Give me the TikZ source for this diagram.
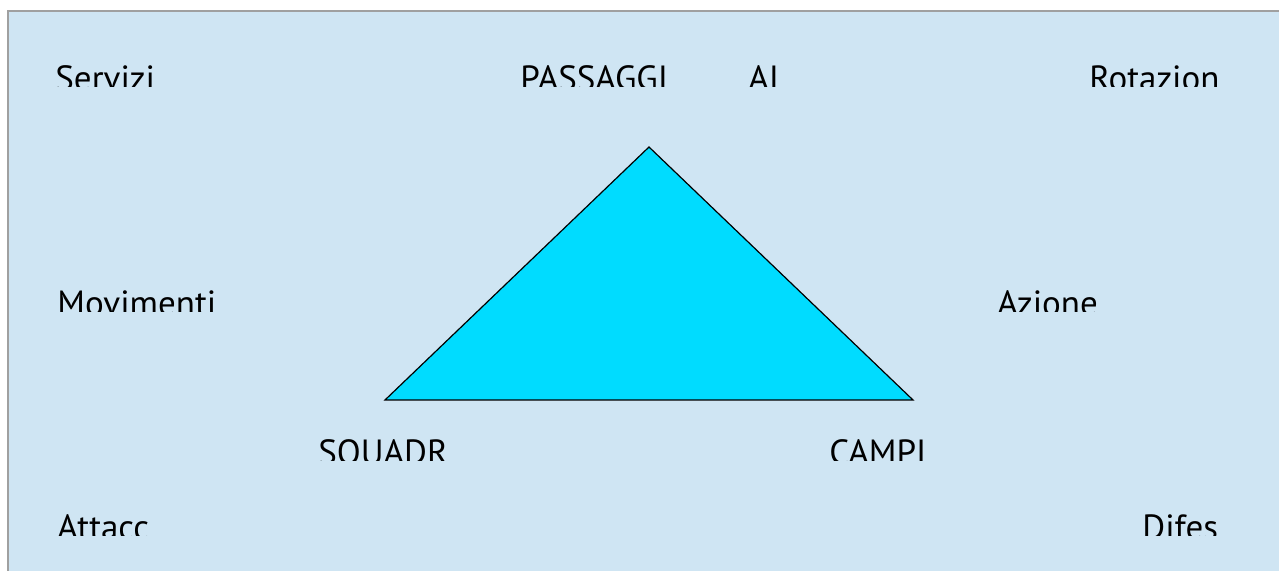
\documentclass[tikz,border=0pt]{standalone}
\usepackage{fontspec}
\usepackage{xcolor}
\newfontfamily\lblfont{PT Sans}
\definecolor{slidebg}{HTML}{CFE5F3}
\definecolor{slideline}{HTML}{A0A0A0}
\definecolor{trifill}{HTML}{00DCFF}
\usetikzlibrary{positioning}

\begin{document}
\begin{tikzpicture}[x=0.5pt, y=-0.5pt,
    lbl/.style={anchor=base west, inner sep=0pt, font=\lblfont\fontsize{17.5}{21}\selectfont}]
    \useasboundingbox (0,0) rectangle (1279,571);
    \fill[slidebg] (8,11) rectangle (1280,572);
    \draw[slideline, line width=1pt] (8,572) -- (8,11) -- (1280,11);
    % triangle
    \coordinate (top) at (649,147);
    \coordinate (left) at (385,400);
    \coordinate (right) at (913,400);
    \draw[fill=trifill, line width=0.6pt] (top) -- (right) -- (left) -- cycle;
    % first row
    \begin{scope}
      \clip (10,50) rectangle (1279,87);
      \node[lbl] (servizi) at (55,91) {Servizi};
      \node[lbl] (passaggi) at (520,91) {PASSAGGI};
      \node[lbl] (ai) at (748,91) {AI};
      \node[lbl] (rotazion) at (1089,91) {Rotazion};
    \end{scope}
    % second row
    \begin{scope}
      \clip (10,275) rectangle (1279,311.5);
      \node[lbl] (movimenti) at (57,316) {Movimenti};
      \node[lbl] (azione) at (997,316) {Azione};
    \end{scope}
    % third row
    \begin{scope}
      \clip (10,425) rectangle (1279,460);
      \node[lbl] (squadr) at (318,465) {SQUADR};
      \node[lbl] (campi) at (829,465) {CAMPI};
    \end{scope}
    % fourth row
    \begin{scope}
      \clip (10,500) rectangle (1279,535);
      \node[lbl] (attacc) at (57,539) {Attacc};
      \node[lbl] (difes) at (1142,539) {Difes};
    \end{scope}
\end{tikzpicture}
\end{document}
